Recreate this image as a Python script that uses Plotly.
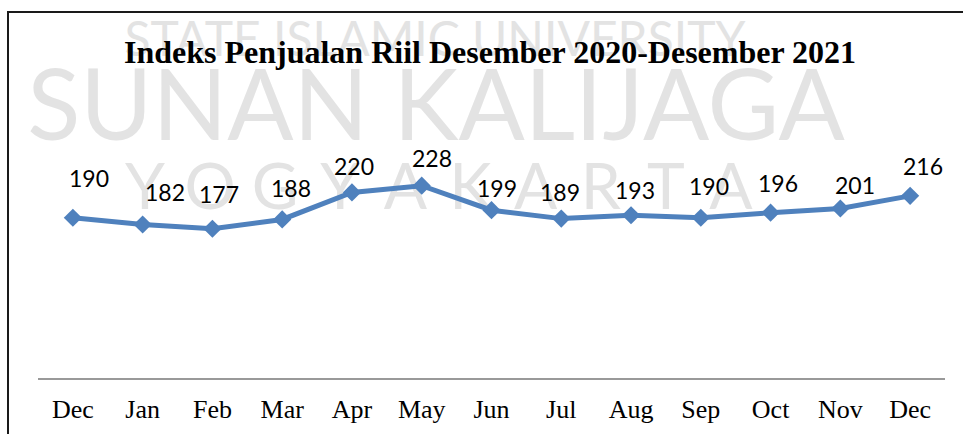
import plotly.graph_objects as go

# ---- data ----
months = ["Dec", "Jan", "Feb", "Mar", "Apr", "May", "Jun", "Jul", "Aug", "Sep", "Oct", "Nov", "Dec"]
values = [190, 182, 177, 188, 220, 228, 199, 189, 193, 190, 196, 201, 216]
title_text = "Indeks Penjualan Riil Desember 2020-Desember 2021"
wm_line1 = "STATE ISLAMIC UNIVERSITY"
wm_line2 = "SUNAN KALIJAGA"
wm_line3 = list("YOGYAKARTA")

# data-label nudges (pixels, relative to each point) as placed in the source chart
label_dx = [16, 22, 7, 9, 2, 10, 5, -1, 4, 8, 7, 15, 13]
label_dy = [40, 33, 35, 31, 26, 28, 22, 27, 25, 32, 30, 23, 30]

# ---- layout geometry (pixels) ----
W, H = 963, 434
L, R, T, B = 38, 18, 125, 56
PW, PH = W - L - R, H - T - B
n = len(months)
YMAX = 300


def pap_x(px):
    return (px - L) / PW


def pap_y(py):
    return (H - B - py) / PH


fig = go.Figure()

xs = list(range(n))
fig.add_trace(go.Scatter(
    x=xs, y=values, mode="lines+markers",
    line=dict(color="#4F81BD", width=5),
    marker=dict(symbol="diamond", size=14, color="#4F81BD"),
    cliponaxis=False, showlegend=False, hoverinfo="skip",
))

annotations = []
for xi, v, dx, dy in zip(xs, values, label_dx, label_dy):
    annotations.append(dict(x=xi, y=v, xref="x", yref="y", text=str(v), showarrow=False,
                            xshift=dx, yshift=dy, xanchor="center", yanchor="middle",
                            font=dict(family="Lato", size=23, color="#000000")))

wm_col = "#e3e3e3"


def wm_shape(text, cx, cy, size, w=60, h=40):
    return dict(type="rect", xref="paper", yref="paper", layer="below",
                x0=pap_x(cx - w / 2), x1=pap_x(cx + w / 2),
                y0=pap_y(cy + h / 2), y1=pap_y(cy - h / 2),
                line=dict(width=0), fillcolor="rgba(0,0,0,0)",
                label=dict(text=text, textposition="middle center",
                           font=dict(family="Lato", size=size, color=wm_col)))


shapes = [
    wm_shape(wm_line1, 435, 36, 48),
    wm_shape(wm_line2, 436, 101, 98),
]
for i, ch in enumerate(wm_line3):
    shapes.append(wm_shape(ch, 145 + i * 65.1, 183, 64, w=40))

shapes += [
    # outer frame (left and top edges visible)
    dict(type="line", xref="paper", yref="paper", x0=pap_x(8), x1=pap_x(8),
         y0=pap_y(12), y1=pap_y(H + 5), line=dict(color="#1a1a1a", width=2)),
    dict(type="line", xref="paper", yref="paper", x0=pap_x(7), x1=pap_x(W + 5),
         y0=pap_y(12), y1=pap_y(12), line=dict(color="#1a1a1a", width=2)),
]

fig.update_layout(
    width=W, height=H,
    margin=dict(l=L, r=R, t=T, b=B, pad=0, autoexpand=False),
    paper_bgcolor="white", plot_bgcolor="white",
    title=dict(text="<b>" + title_text + "</b>", x=490 / W, xanchor="center",
               y=1 - 52 / H, yanchor="middle", yref="container", automargin=False,
               font=dict(family="Liberation Serif", size=32, color="#000000")),
    xaxis=dict(range=[-0.5, n - 0.5], tickmode="array", tickvals=xs, ticktext=months,
               showgrid=False, zeroline=False, showline=True, linecolor="#999999",
               linewidth=2, ticks="", ticklabelstandoff=7, automargin=False,
               tickfont=dict(family="Liberation Serif", size=26, color="#000000")),
    yaxis=dict(range=[0, YMAX], visible=False, showgrid=False, zeroline=False,
               automargin=False),
    annotations=annotations,
    shapes=shapes,
)

fig.write_html("out.html", config={"displayModeBar": False},
               post_script="document.body.style.margin='0';")
